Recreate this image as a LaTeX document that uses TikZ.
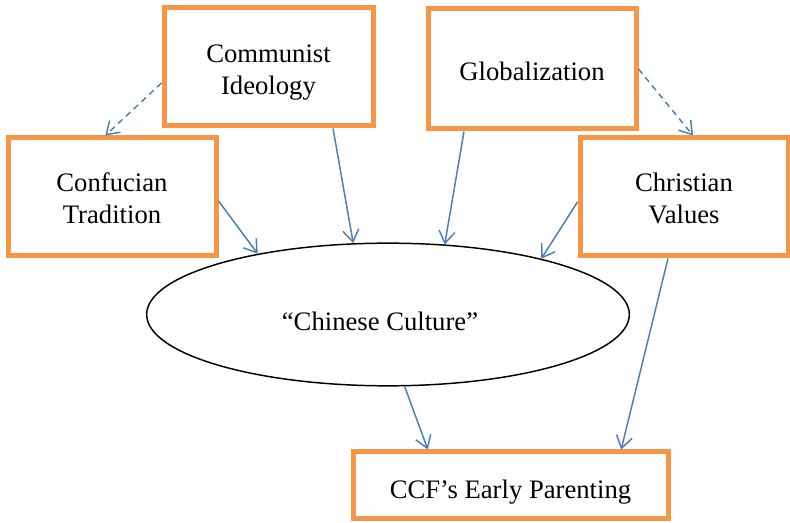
\documentclass[tikz,border=0pt]{standalone}
\usepackage{fontspec}
\setmainfont{Liberation Serif}
\usetikzlibrary{arrows.meta,shapes.geometric}
\definecolor{boxorange}{HTML}{F79646}
\definecolor{arrowblue}{HTML}{4A7EBB}
\newcommand{\dropstrut}[1]{\rule{0pt}{#1}}
\tikzset{
  factorbox/.style={draw=boxorange, line width=3.75pt, fill=white, inner sep=0pt,
    align=center, font=\fontsize{20pt}{24pt}\selectfont},
  culturebox/.style={draw=black, line width=1.1pt, ellipse, inner sep=0pt,
    font=\fontsize{20pt}{24pt}\selectfont},
  influence/.style={draw=arrowblue, line width=1.1pt, -{Straight Barb[length=9pt,width=12pt,line width=1.1pt]}},
  weakinfluence/.style={influence, dash pattern=on 4.5pt off 3.5pt}
}
\begin{document}
\begin{tikzpicture}[x=0.75pt,y=-0.75pt]
\useasboundingbox (0,0) rectangle (790,523);
\node[factorbox, minimum width=156.75pt, minimum height=88.5pt] (comm) at (268.5,67) {\dropstrut{22pt}Communist\\Ideology};
\node[factorbox, minimum width=156pt, minimum height=90pt] (glob) at (532,69) {\dropstrut{18pt}Globalization};
\node[factorbox, minimum width=156pt, minimum height=88.5pt] (conf) at (112,197) {\dropstrut{16pt}Confucian\\Tradition};
\node[factorbox, minimum width=156pt, minimum height=88.5pt] (chr) at (684,197) {\dropstrut{16pt}Christian\\Values};
\node[factorbox, minimum width=236.25pt, minimum height=50.25pt] (ccf) at (510.5,485.5) {\dropstrut{23.5pt}CCF’s Early Parenting};
\node[culturebox, minimum width=362pt, minimum height=107pt] (cult) at (388,314.5) {\hspace*{-12pt}\dropstrut{23.5pt}“Chinese Culture”};

\draw[weakinfluence] ([yshift=-12pt]comm.west) -- ([xshift=-5pt]conf.north);
\draw[weakinfluence] (glob.east) -- ([xshift=6.75pt]chr.north);
\draw[influence] ([yshift=-3pt]conf.east) -- (cult.155.7);
\draw[influence] ([xshift=48.4pt]comm.south) -- (cult.116.4);
\draw[influence] ([xshift=-51pt]glob.south) -- (cult.51.3);
\draw[influence] ([yshift=-3.75pt]chr.west) -- (cult.20.8);
\draw[influence] (cult.-77) -- ([xshift=-62pt]ccf.north);
\draw[influence] ([xshift=-12pt]chr.south) -- ([xshift=83pt]ccf.north);
\end{tikzpicture}
\end{document}
